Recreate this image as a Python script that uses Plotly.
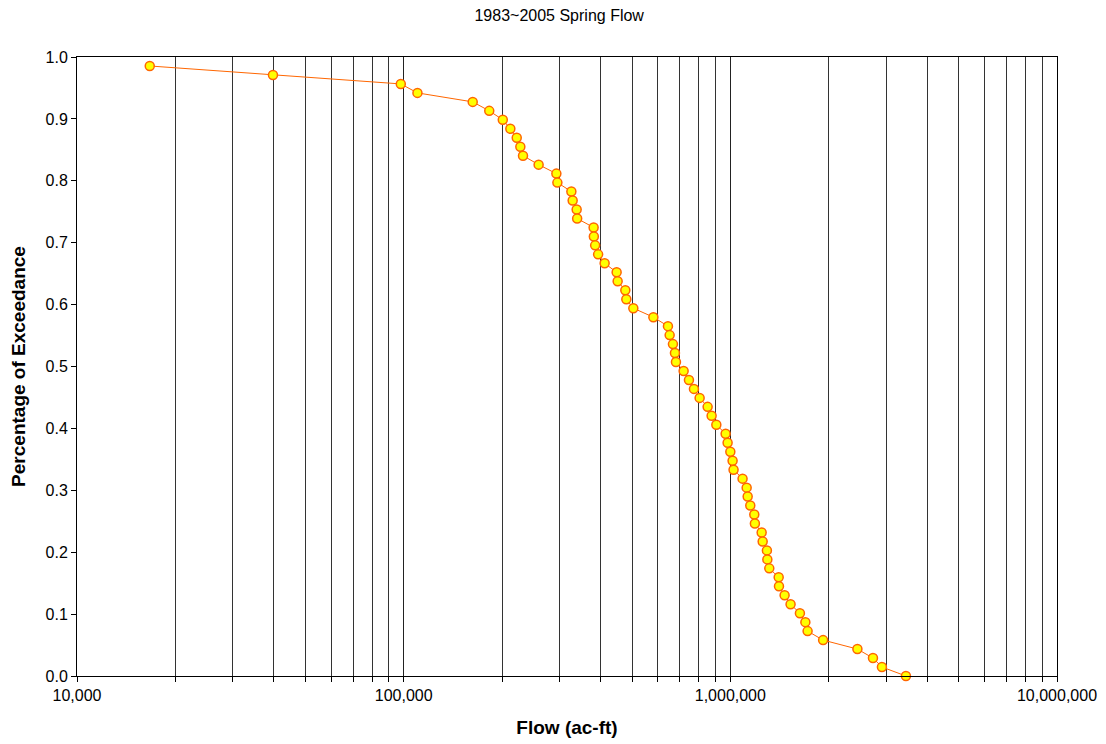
import plotly.graph_objects as go

# flow values (ac-ft), sorted ascending
flow = [
    16700, 39800, 98000, 110200, 162700, 182800, 201100, 212100, 221900, 227600,
    231900, 258900, 293400, 295500, 326100, 329100, 338500, 339700, 381500, 382100,
    385600, 393800, 412300, 448700, 451900, 477000, 480400, 504700, 581300, 644200,
    652000, 667300, 676800, 681600, 719500, 747000, 773800, 805400, 852100, 876400,
    906000, 967400, 981000, 1000000, 1016000, 1023000, 1090000, 1122000, 1130000, 1151000,
    1184000, 1189000, 1247000, 1256000, 1294000, 1298000, 1316000, 1406000, 1409000, 1466000,
    1529000, 1633000, 1697000, 1724000, 1923000, 2449000, 2733000, 2911000, 3448000,
]

exceedance = [
    0.9855, 0.9710, 0.9565, 0.9420, 0.9275, 0.9130, 0.8986, 0.8841, 0.8696, 0.8551,
    0.8406, 0.8261, 0.8116, 0.7971, 0.7826, 0.7681, 0.7536, 0.7391, 0.7246, 0.7101,
    0.6957, 0.6812, 0.6667, 0.6522, 0.6377, 0.6232, 0.6087, 0.5942, 0.5797, 0.5652,
    0.5507, 0.5362, 0.5217, 0.5072, 0.4928, 0.4783, 0.4638, 0.4493, 0.4348, 0.4203,
    0.4058, 0.3913, 0.3768, 0.3623, 0.3478, 0.3333, 0.3188, 0.3043, 0.2899, 0.2754,
    0.2609, 0.2464, 0.2319, 0.2174, 0.2029, 0.1884, 0.1739, 0.1594, 0.1449, 0.1304,
    0.1159, 0.1014, 0.0870, 0.0725, 0.0580, 0.0435, 0.0290, 0.0145, 0.0,
]

FONT = "Liberation Sans, Arial, sans-serif"

fig = go.Figure()

fig.add_trace(go.Scatter(
    x=flow, y=exceedance,
    mode="lines+markers",
    line=dict(color="#FF6600", width=1),
    marker=dict(color="#FFFF00", size=9, line=dict(color="#FF6600", width=1.5)),
    cliponaxis=False,
    showlegend=False,
))

# page body has an 8px margin, so the figure is a bit smaller than the window
fig.update_layout(
    width=1098, height=736,
    paper_bgcolor="white", plot_bgcolor="white",
    margin=dict(l=69, r=49, t=49, b=68),
    font=dict(family=FONT, size=16, color="black"),
    title=dict(text="1983~2005 Spring Flow", x=0.502, xanchor="center",
               y=0.99, yanchor="middle", font=dict(size=16)),
)

fig.update_xaxes(
    type="log", range=[4, 7], dtick=1, tickformat=",d",
    ticks="outside", ticklen=5, tickcolor="black",
    showline=True, mirror=True, linecolor="black", linewidth=1,
    showgrid=True, gridcolor="#222222", gridwidth=1,
    minor=dict(dtick="D1", ticks="outside", ticklen=5, tickcolor="black",
               showgrid=True, gridcolor="#333333", gridwidth=1),
    title=dict(text="<b>Flow (ac-ft)</b>", standoff=17),
    zeroline=False, automargin=False,
)

fig.update_yaxes(
    range=[0, 1], dtick=0.1, tickformat=".1f",
    ticks="outside", ticklen=5, tickcolor="black",
    showline=True, mirror=True, linecolor="black", linewidth=1,
    showgrid=False, zeroline=False, automargin=False,
    title=dict(text="<b>Percentage of Exceedance</b>", standoff=16),
)

fig.write_html("out.html")
